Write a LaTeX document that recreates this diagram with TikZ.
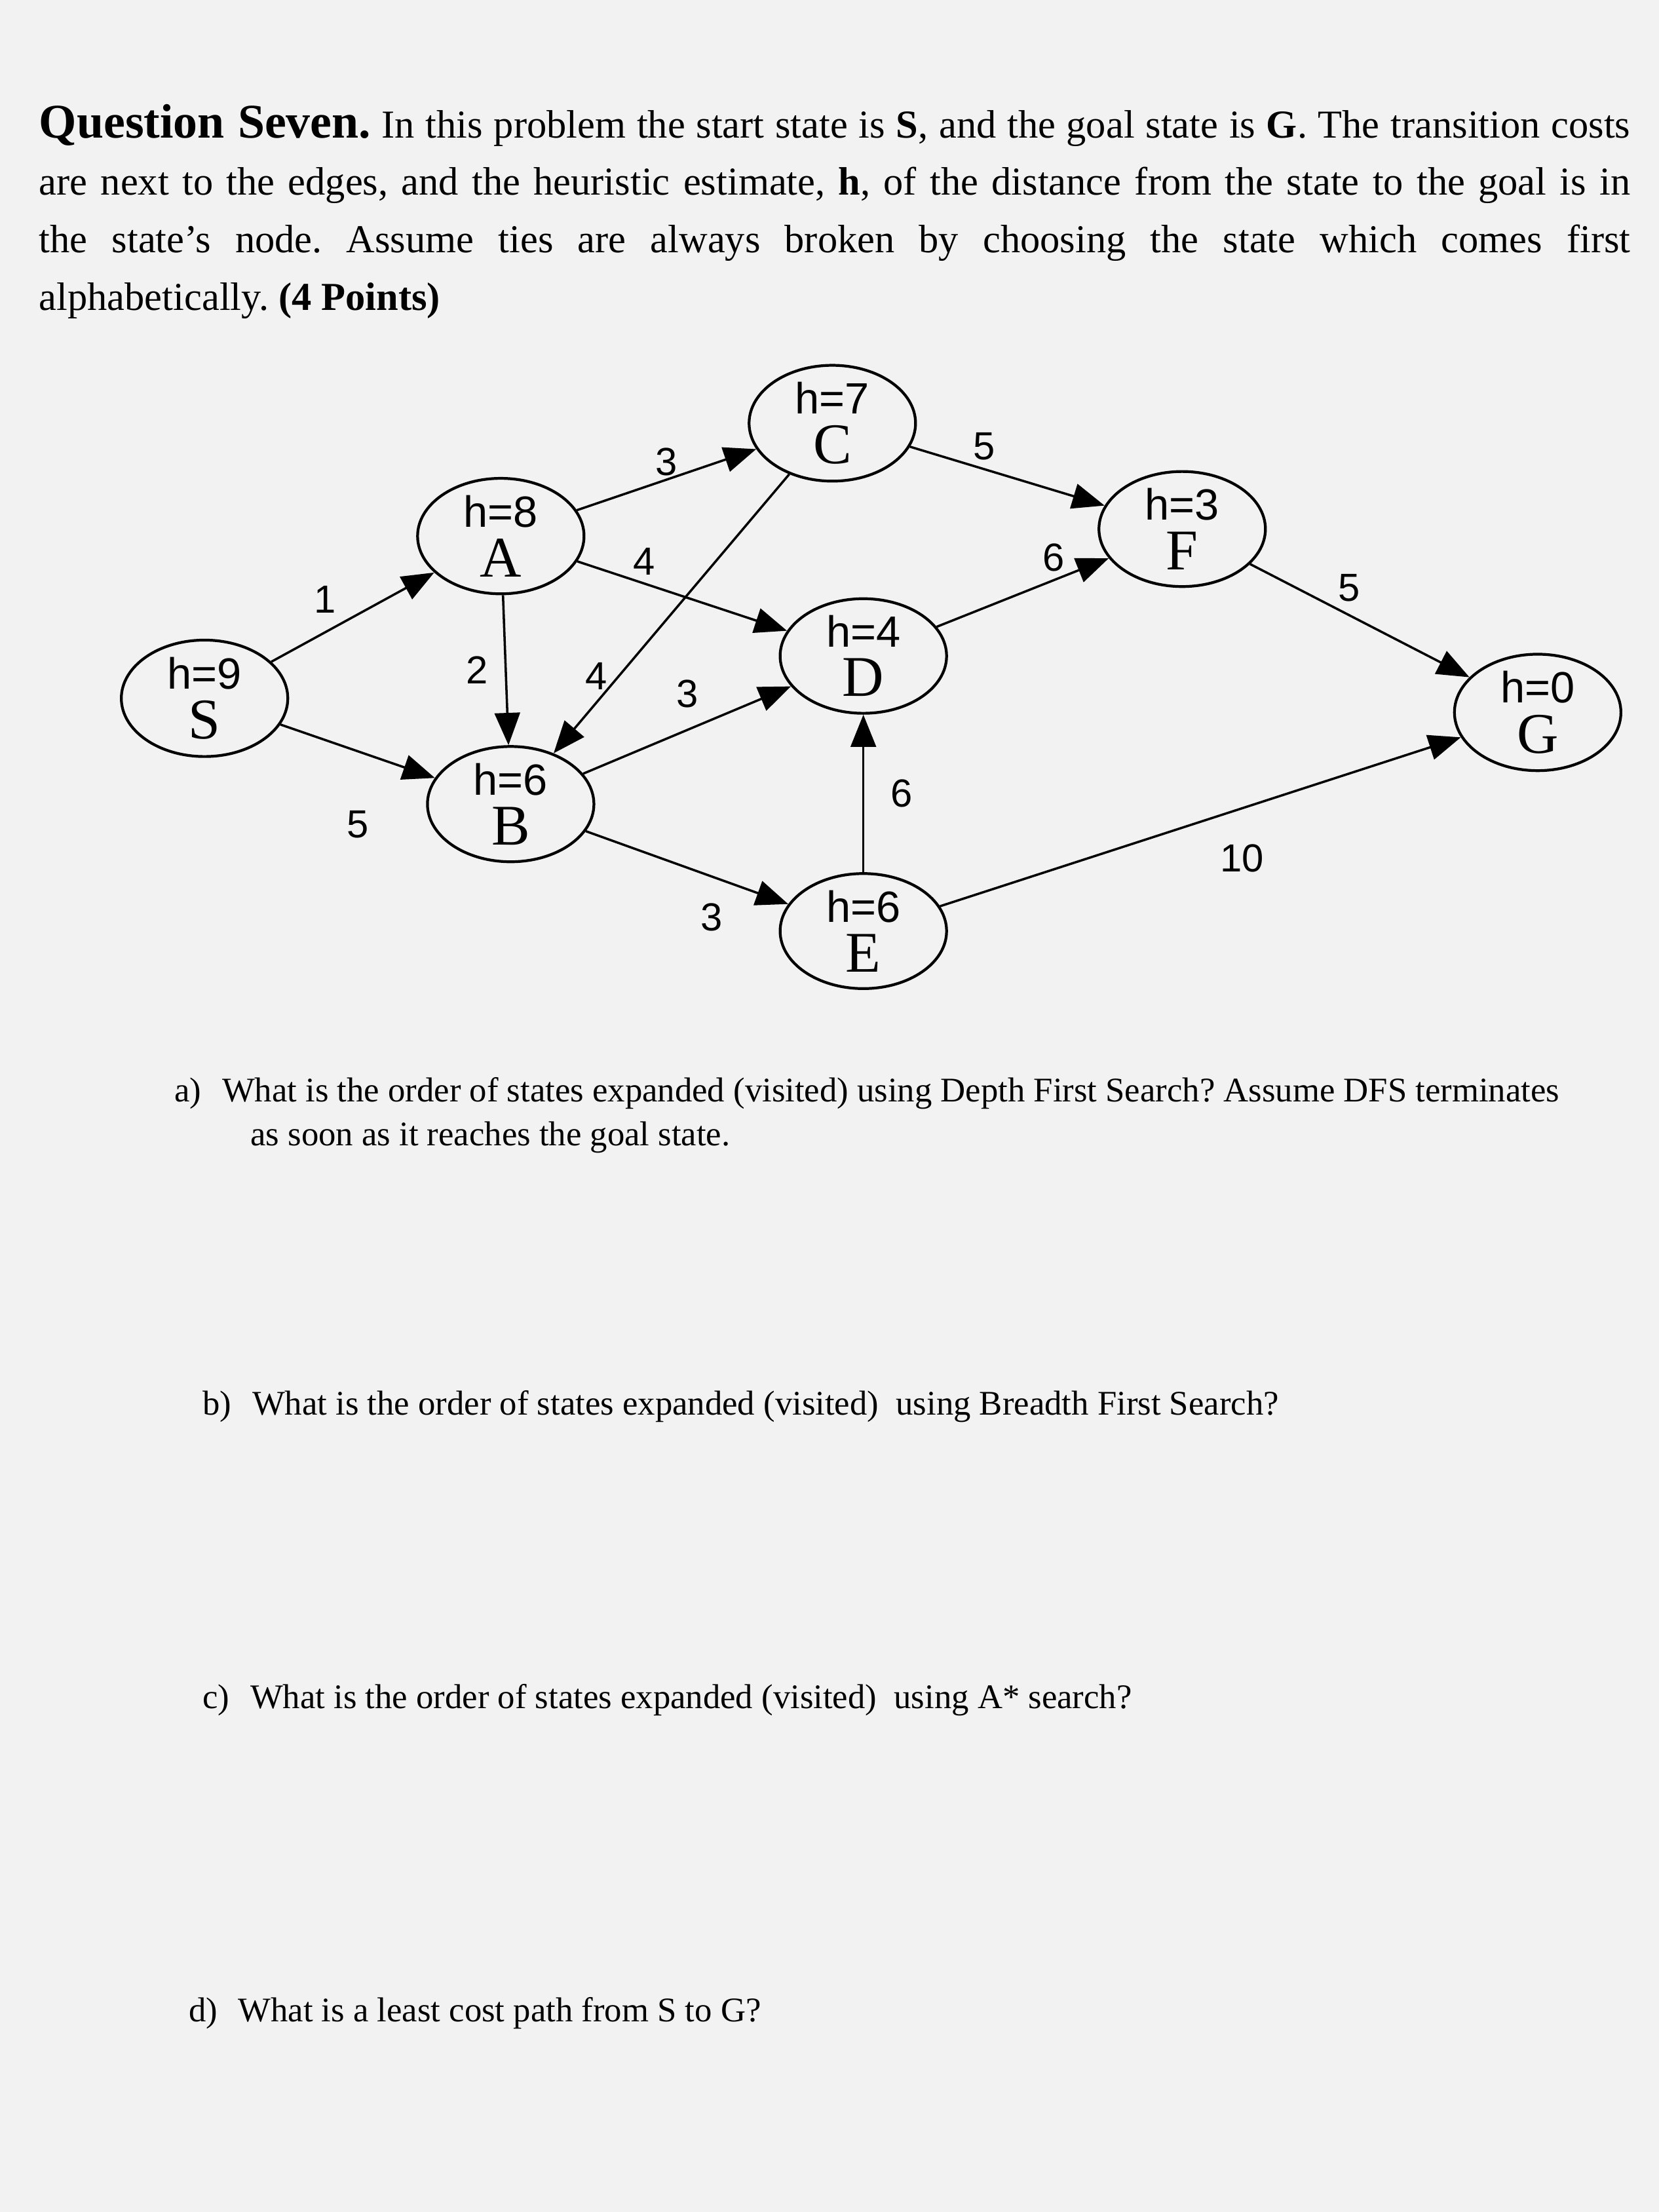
\documentclass[tikz,border=0pt]{standalone}
\usepackage{fontspec}
\setmainfont{Liberation Serif}
\newfontfamily\hsans{Liberation Sans}
\usetikzlibrary{arrows.meta,shapes.geometric}
\frenchspacing
\begin{document}
\begin{tikzpicture}[x=0.02153cm,y=-0.02153cm,
  st/.style={draw,line width=1.2pt,ellipse,minimum width=118*0.02153cm,minimum height=72*0.02153cm,inner sep=0pt,align=center},
  ed/.style={line width=1pt,-{Triangle[length=14pt,width=11pt]}},
  lb/.style={font=\hsans\fontsize{17pt}{19pt}\selectfont},
  q/.style={anchor=north west,align=left,font=\fontsize{15pt}{19pt}\selectfont}]
\fill[gray!10] (0,0) rectangle (1176,1568);
\useasboundingbox (0,0) rectangle (1176,1568);
\node[anchor=north west,text width=1128*0.02153cm,align=justify,font=\fontsize{17.2pt}{25pt}\selectfont] (title) at (22,68)
{{\fontsize{21pt}{25pt}\selectfont\textbf{Question Seven.}} In this problem the start state is \textbf{S}, and the goal state is \textbf{G}. The transition costs\linebreak are next to the edges, and the heuristic estimate, \textbf{h}, of the distance from the state to the goal is in\linebreak the state's node. Assume ties are always broken by choosing the state which comes first\linebreak alphabetically. \textbf{(4 Points)}};
\newcommand{\st}[2]{{\hsans\fontsize{19pt}{21pt}\selectfont #1}\\[4pt]{\fontsize{25pt}{26pt}\selectfont #2}}
\node[st] (S) at (145,495) {\st{h=9}{S}};
\node[st] (A) at (355,380) {\st{h=8}{A}};
\node[st] (B) at (362,570) {\st{h=6}{B}};
\node[st] (C) at (590,300) {\st{h=7}{C}};
\node[st] (D) at (612,465) {\st{h=4}{D}};
\node[st] (E) at (612,660) {\st{h=6}{E}};
\node[st] (F) at (838,375) {\st{h=3}{F}};
\node[st] (G) at (1090,505) {\st{h=0}{G}};
\draw[ed] (S) -- node[lb,pos=0.45,above left=0pt] {1} (A);
\draw[ed] (S) -- node[lb,pos=0.5,below=22pt] {5} (B);
\draw[ed] (A) -- node[lb,left=4pt] {2} (B);
\draw[ed] (A) -- node[lb,above=-2pt] {3} (C);
\draw[ed] (A) -- node[lb,pos=0.32,above=0pt] {4} (D);
\draw[ed] (C) -- node[lb,pos=0.82,above=2pt] {4} (B);
\draw[ed] (B) -- node[lb,pos=0.5,above=6pt] {3} (D);
\draw[ed] (B) -- node[lb,pos=0.62,below=8pt] {3} (E);
\draw[ed] (E) -- node[lb,right=8pt] {6} (D);
\draw[ed] (C) -- node[lb,pos=0.38,above=0pt] {5} (F);
\draw[ed] (D) -- node[lb,pos=0.68,above=0pt] {6} (F);
\draw[ed] (F) -- node[lb,pos=0.45,above=2pt] {5} (G);
\draw[ed] (E) -- node[lb,pos=0.58,below=12pt] {10} (G);
\node[q] (qa) at (118,758) {a)\hspace{0.6em}What is the order of states expanded (visited) using Depth First Search? Assume DFS terminates\\\hspace{2.2em}as soon as it reaches the goal state.};
\node[q] (qb) at (138,980) {b)\hspace{0.6em}What is the order of states expanded (visited)\ \ using Breadth First Search?};
\node[q] (qc) at (138,1188) {c)\hspace{0.6em}What is the order of states expanded (visited)\ \ using A* search?};
\node[q] (qd) at (128,1410) {d)\hspace{0.6em}What is a least cost path from S to G?};
\end{tikzpicture}
\end{document}
